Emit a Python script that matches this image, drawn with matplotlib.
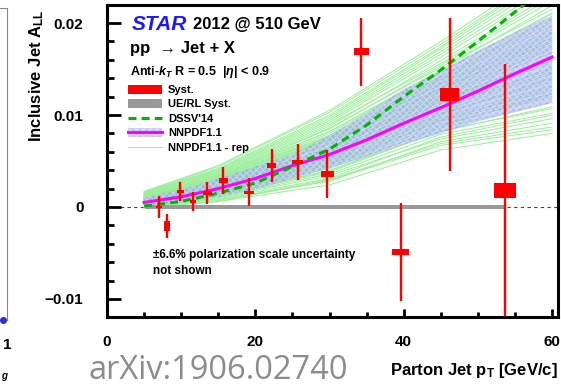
import numpy as np
import matplotlib.pyplot as plt
from matplotlib.patches import Rectangle, Patch
from matplotlib.lines import Line2D

plt.rcParams['font.family'] = 'Liberation Sans'
plt.rcParams['font.weight'] = 'bold'
plt.rcParams['axes.labelweight'] = 'bold'
plt.rcParams['mathtext.fontset'] = 'custom'
plt.rcParams['mathtext.rm'] = 'Liberation Sans:bold'
plt.rcParams['mathtext.it'] = 'Liberation Sans:bold:italic'
plt.rcParams['mathtext.bf'] = 'Liberation Sans:bold'

# Measured A_LL points: pT, value, stat error, syst box half-height and half-width
pt = [7.0, 8.1, 9.9, 11.6, 13.5, 15.7, 19.1, 22.2, 25.7, 29.7, 34.3, 39.6, 46.2, 53.7]
all_val = [0.0000, -0.0021, 0.0017, 0.0006, 0.0015, 0.0029, 0.0016, 0.0045,
           0.0049, 0.0036, 0.0169, -0.0049, 0.0122, 0.0018]
stat_err = [0.0012, 0.0013, 0.0010, 0.0010, 0.0012, 0.0015, 0.0015, 0.0018,
            0.0020, 0.00265, 0.0037, 0.0053, 0.0083, 0.0137]
sys_err = [0.00015, 0.00055, 0.0002, 0.00015, 0.0002, 0.00025, 0.00018, 0.0003,
           0.00023, 0.0003, 0.00036, 0.00036, 0.0007, 0.0008]
sys_dpt = [0.35, 0.35, 0.43, 0.45, 0.6, 0.56, 0.67, 0.63, 0.79, 0.88, 1.06, 1.17, 1.25, 1.5]

# UE/RL systematic band around zero
ue_range = [5.1, 53.7]
ue_sys = 0.00022

# Theory curves
theory_pt = [5, 10, 15, 20, 25, 30, 35, 40, 45, 50, 55, 60]
nnpdf = [0.0005, 0.0011, 0.0020, 0.0031, 0.0045, 0.0057, 0.0073, 0.0091,
         0.0108, 0.0126, 0.0145, 0.0163]
nnpdf_hi = [0.0010, 0.0019, 0.0031, 0.0044, 0.0057, 0.0078, 0.0102, 0.0128,
            0.0148, 0.0170, 0.0190, 0.0208]
nnpdf_lo = [0.0000, 0.0005, 0.0011, 0.0019, 0.0031, 0.0042, 0.0055, 0.0068,
            0.0080, 0.0093, 0.0103, 0.0113]
dssv = [0.0001, 0.0006, 0.0015, 0.0026, 0.0044, 0.0063, 0.0089, 0.0120,
        0.0149, 0.0180, 0.0212, 0.0245]

# NNPDF1.1 replicas (units of 1e-4) at a few pT values
rep_pt = [5, 15, 30, 45, 60]
rep_vals = np.array([
    [-1, 6, 24, 62, 80], [0, 6, 29, 67, 84], [1, 8, 28, 71, 91],
    [0, 10, 34, 74, 96], [2, 11, 36, 79, 102], [3, 12, 38, 83, 107],
    [2, 14, 42, 86, 114], [4, 15, 44, 90, 120], [4, 16, 46, 95, 127],
    [5, 17, 49, 97, 132], [4, 19, 52, 101, 139], [5, 19, 54, 104, 145],
    [6, 20, 56, 109, 150], [6, 22, 58, 112, 157], [7, 23, 60, 115, 163],
    [8, 24, 62, 119, 168], [7, 25, 65, 122, 174], [8, 26, 68, 127, 181],
    [9, 27, 70, 130, 188], [9, 28, 73, 135, 193], [10, 29, 75, 139, 201],
    [10, 31, 77, 142, 206], [10, 32, 80, 146, 211], [11, 33, 82, 149, 219],
    [12, 34, 85, 154, 224], [13, 36, 88, 159, 231], [14, 38, 92, 163, 238],
    [15, 40, 96, 169, 247], [16, 42, 100, 174, 255], [17, 45, 105, 180, 260],
    [4, 16, 47, 100, 141], [7, 21, 56, 107, 147], [8, 24, 64, 117, 161],
    [5, 18, 47, 93, 123], [9, 29, 72, 129, 179], [12, 31, 76, 134, 184],
    [-1, 7, 30, 69, 87], [1, 9, 31, 76, 100], [2, 13, 40, 82, 109],
    [3, 13, 39, 88, 123], [4, 15, 44, 94, 130], [5, 18, 50, 102, 136],
    [6, 19, 53, 107, 152], [6, 22, 60, 114, 159], [7, 23, 63, 121, 172],
    [8, 25, 64, 125, 177], [9, 27, 69, 128, 184], [9, 28, 73, 133, 190],
    [10, 30, 74, 138, 197], [11, 32, 78, 141, 204], [12, 34, 82, 147, 210],
    [12, 35, 86, 152, 215], [13, 37, 90, 156, 228], [14, 39, 94, 166, 242],
    [15, 41, 98, 172, 251], [16, 44, 103, 177, 256],
]) * 1e-4

red = '#ff0000'
rep_green = '#9aee9a'
band_face = (0.58, 0.62, 0.95, 0.58)
band_hatch = (1, 1, 1, 0.35)

fig = plt.figure(figsize=(5.61, 3.87), dpi=100)
ax = fig.add_axes([107 / 561, 70 / 387, 451 / 561, 312 / 387])

# zero line
ax.axhline(0, color='#444444', lw=0.8, ls=(0, (3, 3)), zorder=1)

# replicas, band, central curves
for r in rep_vals:
    ax.plot(rep_pt, r, color=rep_green, lw=0.7, zorder=2)
ax.fill_between(theory_pt, nnpdf_lo, nnpdf_hi, facecolor=band_face,
                edgecolor=band_hatch, hatch='xxxxx', lw=0, zorder=3)
ax.plot(theory_pt, nnpdf, color='#ff00ff', lw=2.2, zorder=4)
ax.plot(theory_pt, dssv, color='#00b400', lw=2.2, dashes=(2.6, 1.7), zorder=4)

# UE/RL systematics
ax.fill_between(ue_range, -ue_sys, ue_sys, color='#999999', lw=0, zorder=3)

# data: stat error bars and syst boxes
ax.errorbar(pt, all_val, yerr=stat_err, fmt='none', ecolor=red, elinewidth=1.7,
            capsize=0, zorder=6)
for x, y, dy, dx in zip(pt, all_val, sys_err, sys_dpt):
    ax.add_patch(Rectangle((x - dx, y - dy), 2 * dx, 2 * dy, facecolor=red,
                           edgecolor='none', zorder=7))

ax.set_xlim(0, 60.8)
ax.set_ylim(-0.01196, 0.02196)
ax.set_xticks([0, 20, 40, 60])
ax.set_xticks(np.arange(5, 60, 5), minor=True)
ax.set_yticks([-0.01, 0, 0.01, 0.02])
ax.set_yticklabels(['\u22120.01', '0', '0.01', '0.02'])
ax.set_yticks(np.arange(-0.01, 0.021, 0.002), minor=True)
ax.tick_params(axis='both', which='both', direction='in', width=2, labelsize=11)
ax.tick_params(axis='y', which='major', length=10, pad=17)
ax.tick_params(axis='y', which='minor', length=5)
ax.tick_params(axis='x', which='major', length=6, pad=13)
ax.tick_params(axis='x', which='minor', length=3.5)
for lbl in ax.get_xticklabels() + ax.get_yticklabels():
    lbl.set_fontweight('bold')
for s in ax.spines.values():
    s.set_linewidth(2.2)

ax.set_ylabel(r'Inclusive Jet A$_{\mathrm{LL}}$', fontsize=12, loc='top')
ax.yaxis.set_label_coords(-0.135, 0.985)
ax.set_xlabel(r'Parton Jet p$_{\mathrm{T}}$ [GeV/c]', fontsize=12, loc='right')
ax.xaxis.set_label_coords(1.0, -0.14)

# header texts
ax.text(0.055, 0.939, 'STAR', color='#1a1aff', style='italic', fontsize=15,
        transform=ax.transAxes, va='center')
ax.text(0.19, 0.936, '2012 @ 510 GeV', fontsize=12, transform=ax.transAxes,
        va='center')
ax.text(0.051, 0.862, 'pp  \u2192 Jet + X', fontsize=12,
        transform=ax.transAxes, va='center')
ax.text(0.051, 0.785, r'Anti-$k_{T}$ R = 0.5  |$\eta$| < 0.9', fontsize=9,
        transform=ax.transAxes, va='center')
ax.text(0.102, 0.199, '\u00b16.6% polarization scale uncertainty', fontsize=8.5,
        transform=ax.transAxes, va='center')
ax.text(0.102, 0.148, 'not shown', fontsize=8.5, transform=ax.transAxes,
        va='center')

# legend
h_sys = Patch(facecolor=red, edgecolor='none')
h_ue = Patch(facecolor='#999999', edgecolor='none')
h_dssv = Line2D([], [], color='#00b400', lw=2.2, dashes=(2.6, 1.7))
h_band = Patch(facecolor=band_face, edgecolor=band_hatch, hatch='xxxxx', lw=0)
h_nn = Line2D([], [], color='#ff00ff', lw=2.2)
h_rep = Line2D([], [], color=rep_green, lw=0.8)
ax.legend([h_sys, h_ue, h_dssv, (h_band, h_nn), h_rep],
          ['Syst.', 'UE/RL Syst.', "DSSV'14", 'NNPDF1.1', 'NNPDF1.1 - rep'],
          loc='upper left', bbox_to_anchor=(0.047, 0.745), frameon=False,
          prop={'size': 8, 'weight': 'bold'}, handlelength=3.06, handleheight=0.9,
          handletextpad=0.54, labelspacing=0.36, borderpad=0, borderaxespad=0)

# neighbouring panel edge on the left
side = fig.add_axes([-0.05, 67 / 387, 0.05 + 7.5 / 561, 312 / 387])
side.set_xlim(0, 1)
side.set_ylim(0, 1)
side.set_xticks([])
side.set_yticks([])
side.spines['left'].set_visible(False)
side.spines['bottom'].set_visible(False)
side.spines['right'].set_color('#888888')
side.spines['top'].set_color('#888888')
side.spines['right'].set_linewidth(0.8)
side.spines['top'].set_linewidth(0.8)
side.set_facecolor('none')
side.plot([0.55, 1.0], [0.0, 0.0], color=red, lw=0.8, clip_on=False)
side.plot([0.88], [0.0], 'o', color='#2030e0', ms=4, clip_on=False)
fig.text(7 / 561, 1 - 345 / 387, '1', fontsize=11, ha='center', va='center')
fig.text(4 / 561, 1 - 376 / 387, 'g', fontsize=7, style='italic', ha='center',
         va='center')

fig.text(88 / 561, 1 - 379 / 387, 'arXiv:1906.02740', color='#8c8c8c',
         fontsize=23.5, family='Open Sans', weight='normal', va='baseline')

fig.savefig('out.png', dpi=100)
